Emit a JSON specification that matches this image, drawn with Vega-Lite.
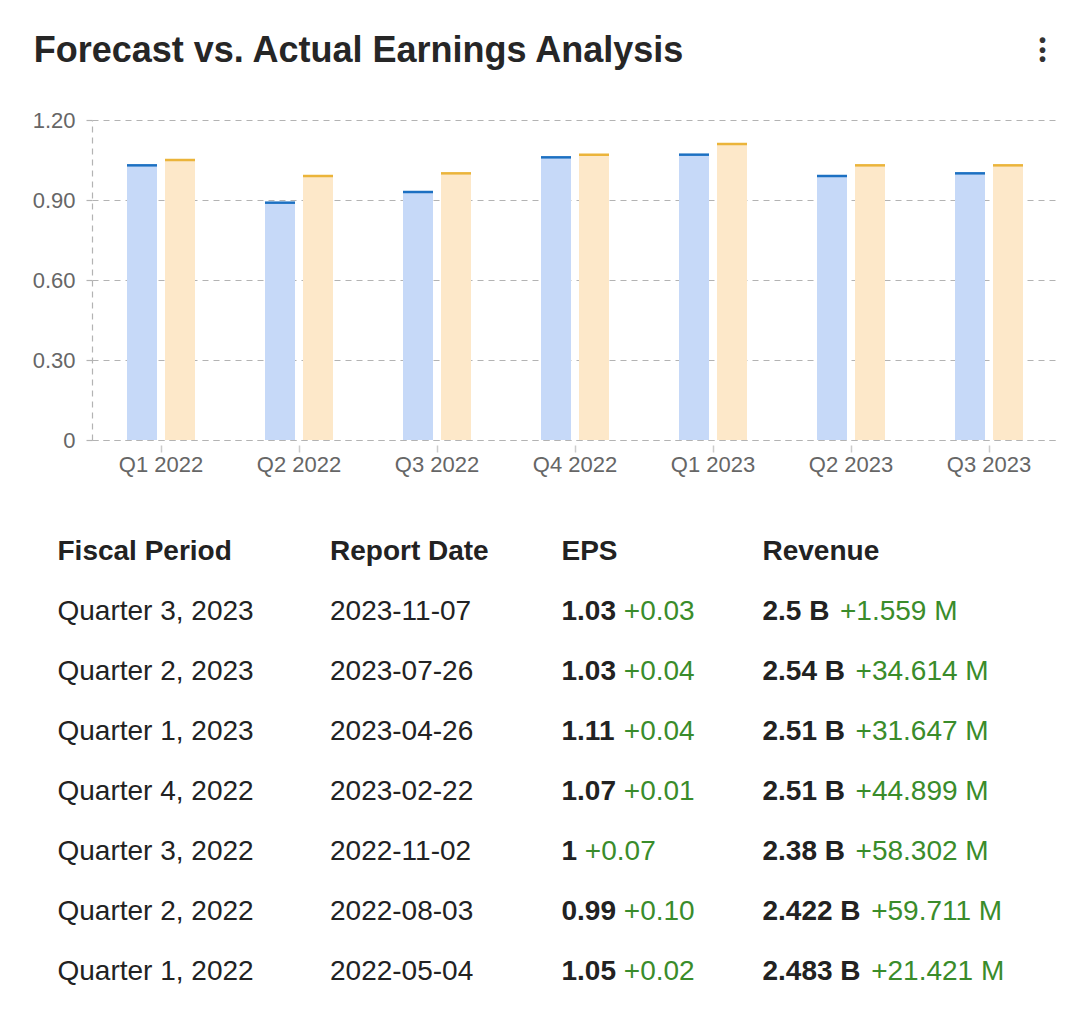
{
  "$schema": "https://vega.github.io/schema/vega-lite/v6.json",
  "background": "white",
  "padding": {"left": 32, "top": 31, "right": 6, "bottom": 0},
  "config": {"font": "Liberation Sans", "view": {"stroke": null}, "concat": {"spacing": 55}},
  "title": {"text": "Forecast vs. Actual Earnings Analysis", "anchor": "start", "fontSize": 36, "fontWeight": "bold", "color": "#262626", "offset": -39, "dx": 1.5},
  "datasets": {
    "eps": [
      {"quarter": "Q1 2022", "type": "Forecast", "value": 1.03},
      {"quarter": "Q1 2022", "type": "Actual", "value": 1.05},
      {"quarter": "Q2 2022", "type": "Forecast", "value": 0.89},
      {"quarter": "Q2 2022", "type": "Actual", "value": 0.99},
      {"quarter": "Q3 2022", "type": "Forecast", "value": 0.93},
      {"quarter": "Q3 2022", "type": "Actual", "value": 1.00},
      {"quarter": "Q4 2022", "type": "Forecast", "value": 1.06},
      {"quarter": "Q4 2022", "type": "Actual", "value": 1.07},
      {"quarter": "Q1 2023", "type": "Forecast", "value": 1.07},
      {"quarter": "Q1 2023", "type": "Actual", "value": 1.11},
      {"quarter": "Q2 2023", "type": "Forecast", "value": 0.99},
      {"quarter": "Q2 2023", "type": "Actual", "value": 1.03},
      {"quarter": "Q3 2023", "type": "Forecast", "value": 1.00},
      {"quarter": "Q3 2023", "type": "Actual", "value": 1.03}
    ],
    "headers": [
      {"col": "Fiscal Period"}, {"col": "Report Date"}, {"col": "EPS"}, {"col": "Revenue"}
    ],
    "table": [
      {"period": "Quarter 3, 2023", "date": "2023-11-07", "eps": "1.03", "epsSurprise": "+0.03", "revenue": "2.5 B", "revSurprise": "+1.559 M"},
      {"period": "Quarter 2, 2023", "date": "2023-07-26", "eps": "1.03", "epsSurprise": "+0.04", "revenue": "2.54 B", "revSurprise": "+34.614 M"},
      {"period": "Quarter 1, 2023", "date": "2023-04-26", "eps": "1.11", "epsSurprise": "+0.04", "revenue": "2.51 B", "revSurprise": "+31.647 M"},
      {"period": "Quarter 4, 2022", "date": "2023-02-22", "eps": "1.07", "epsSurprise": "+0.01", "revenue": "2.51 B", "revSurprise": "+44.899 M"},
      {"period": "Quarter 3, 2022", "date": "2022-11-02", "eps": "1", "epsSurprise": "+0.07", "revenue": "2.38 B", "revSurprise": "+58.302 M"},
      {"period": "Quarter 2, 2022", "date": "2022-08-03", "eps": "0.99", "epsSurprise": "+0.10", "revenue": "2.422 B", "revSurprise": "+59.711 M"},
      {"period": "Quarter 1, 2022", "date": "2022-05-04", "eps": "1.05", "epsSurprise": "+0.02", "revenue": "2.483 B", "revSurprise": "+21.421 M"}
    ]
  },
  "vconcat": [
    {
      "width": 966,
      "height": 320,
      "title": {"text": ["•", "•", "•"], "anchor": "end", "fontSize": 20, "lineHeight": 9.3, "color": "#333333", "offset": 39, "dx": -12},
      "data": {"name": "eps"},
      "encoding": {
        "x": {
          "field": "quarter", "type": "nominal", "sort": null,
          "scale": {"paddingInner": 0.5072, "paddingOuter": 0.2536},
          "axis": {"title": null, "labelAngle": 0, "labelFontSize": 22, "labelColor": "#666666", "labelPadding": 2,
                   "domainColor": "#b3b3b3", "domainDash": [6, 5], "domainWidth": 1.2,
                   "tickColor": "#cccccc", "tickSize": 12, "tickWidth": 1.5, "tickDash": [0, 5, 7, 0]}
        },
        "xOffset": {"field": "type", "type": "nominal", "sort": ["Forecast", "Actual"], "scale": {"domain": ["Forecast", "Actual"], "paddingInner": 0.2105, "paddingOuter": 0}},
        "y": {
          "field": "value", "type": "quantitative",
          "scale": {"domain": [0, 1.2], "nice": false},
          "axis": {"title": null, "values": [0, 0.3, 0.6, 0.9, 1.2],
                   "labelExpr": "datum.value == 0 ? '0' : format(datum.value, '.2f')",
                   "labelFontSize": 22, "labelColor": "#666666", "labelPadding": 7,
                   "grid": true, "gridColor": "#b3b3b3", "gridDash": [6, 5], "gridWidth": 1.2,
                   "domainColor": "#b3b3b3", "domainDash": [6, 5], "domainWidth": 1.2,
                   "tickColor": "#b3b3b3", "tickDash": [6, 5], "tickSize": 10, "tickWidth": 1.2}
        }
      },
      "layer": [
        {"mark": {"type": "bar"},
         "encoding": {"color": {"field": "type", "type": "nominal", "scale": {"domain": ["Forecast", "Actual"], "range": ["#c6d9f8", "#fde8c9"]}, "legend": null}}},
        {"mark": {"type": "tick", "size": 30, "thickness": 2.5, "opacity": 1},
         "encoding": {"color": {"field": "type", "type": "nominal", "scale": {"domain": ["Forecast", "Actual"], "range": ["#1c70c2", "#ebb43a"]}, "legend": null}}}
      ],
      "resolve": {"scale": {"color": "independent"}}
    },
    {
      "width": 966,
      "height": 480,
      "encoding": {
        "y": {"field": "period", "type": "nominal", "sort": null,
              "scale": {"type": "point", "padding": 0.5,
                        "domain": ["header", "Quarter 3, 2023", "Quarter 2, 2023", "Quarter 1, 2023", "Quarter 4, 2022", "Quarter 3, 2022", "Quarter 2, 2022", "Quarter 1, 2022"]},
              "axis": null}
      },
      "layer": [
        {"data": {"name": "headers"},
         "transform": [{"filter": "datum.col == 'Fiscal Period' || datum.col == 'Revenue'"}],
         "mark": {"type": "text", "align": "left", "baseline": "alphabetic", "fontSize": 28, "fontWeight": "bold", "color": "#222222"},
         "encoding": {
           "x": {"field": "col", "type": "nominal", "bandPosition": 0,
                 "scale": {"type": "band", "domain": ["Fiscal Period", "Report Date", "EPS", "Revenue"], "range": [-34.5, 905.5], "paddingInner": 0, "paddingOuter": 0},
                 "axis": null},
           "y": {"datum": "header", "type": "nominal"},
           "text": {"field": "col"}}},
        {"data": {"name": "headers"},
         "transform": [{"filter": "datum.col == 'Report Date'"}],
         "mark": {"type": "text", "align": "left", "baseline": "alphabetic", "fontSize": 28, "fontWeight": "bold", "color": "#222222"},
         "encoding": {"x": {"field": "col", "type": "nominal", "bandPosition": 0.1596}, "y": {"datum": "header", "type": "nominal"}, "text": {"field": "col"}}},
        {"data": {"name": "headers"},
         "transform": [{"filter": "datum.col == 'EPS'"}],
         "mark": {"type": "text", "align": "left", "baseline": "alphabetic", "fontSize": 28, "fontWeight": "bold", "color": "#222222"},
         "encoding": {"x": {"field": "col", "type": "nominal", "bandPosition": 0.1447}, "y": {"datum": "header", "type": "nominal"}, "text": {"field": "col"}}},
        {"data": {"name": "table"},
         "mark": {"type": "text", "align": "left", "baseline": "alphabetic", "fontSize": 28, "color": "#222222"},
         "encoding": {"x": {"datum": "Fiscal Period", "type": "nominal", "bandPosition": 0}, "text": {"field": "period"}}},
        {"data": {"name": "table"},
         "mark": {"type": "text", "align": "left", "baseline": "alphabetic", "fontSize": 28, "color": "#222222"},
         "encoding": {"x": {"datum": "Report Date", "type": "nominal", "bandPosition": 0.1596}, "text": {"field": "date"}}},
        {"data": {"name": "table"},
         "mark": {"type": "text", "align": "left", "baseline": "alphabetic", "fontSize": 28, "fontWeight": "bold", "color": "#222222"},
         "encoding": {"x": {"datum": "EPS", "type": "nominal", "bandPosition": 0.1447}, "text": {"field": "eps"}}},
        {"data": {"name": "table"},
         "mark": {"type": "text", "align": "left", "baseline": "alphabetic", "fontSize": 28, "color": "#3a8c2b",
                  "dx": {"expr": "28*(0.556*length(replace(datum.eps, regexp('[^0-9]','g'), '')) + 0.278*length(replace(datum.eps, regexp('[^. ]','g'), '')) + 0.722*length(replace(datum.eps, regexp('[^B]','g'), '')) + 0.278)"}},
         "encoding": {"x": {"datum": "EPS", "type": "nominal", "bandPosition": 0.1447}, "text": {"field": "epsSurprise"}}},
        {"data": {"name": "table"},
         "mark": {"type": "text", "align": "left", "baseline": "alphabetic", "fontSize": 28, "fontWeight": "bold", "color": "#222222"},
         "encoding": {"x": {"datum": "Revenue", "type": "nominal", "bandPosition": 0}, "text": {"field": "revenue"}}},
        {"data": {"name": "table"},
         "mark": {"type": "text", "align": "left", "baseline": "alphabetic", "fontSize": 28, "color": "#3a8c2b",
                  "dx": {"expr": "28*(0.556*length(replace(datum.revenue, regexp('[^0-9]','g'), '')) + 0.278*length(replace(datum.revenue, regexp('[^. ]','g'), '')) + 0.722*length(replace(datum.revenue, regexp('[^B]','g'), '')) + 0.378)"}},
         "encoding": {"x": {"datum": "Revenue", "type": "nominal", "bandPosition": 0}, "text": {"field": "revSurprise"}}}
      ]
    }
  ]
}
